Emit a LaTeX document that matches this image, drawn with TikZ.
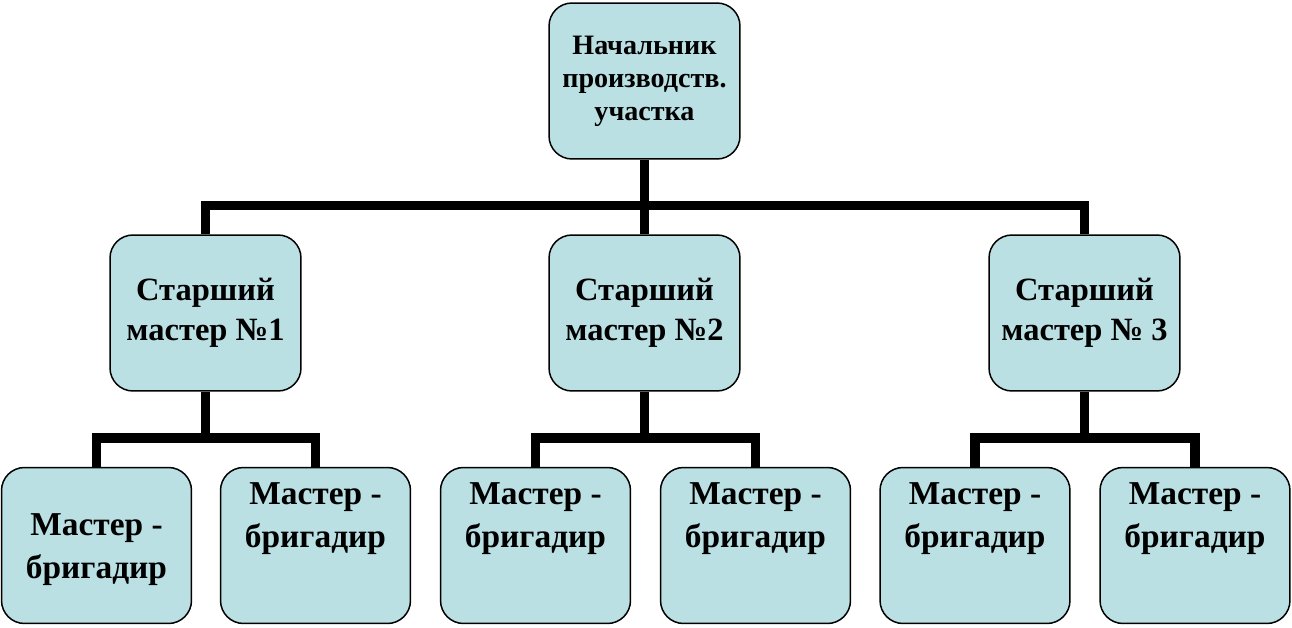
\documentclass[tikz,border=0pt]{standalone}
\usepackage{fontspec}
\setmainfont{Liberation Serif}
\usepackage{tikz}
\usetikzlibrary{calc}
\definecolor{cellblue}{RGB}{186,224,227}
\tikzset{cell/.style = {draw, fill = cellblue, rounded corners = 0.46cm, line width = 0.85pt,
    minimum width = 3.82cm, minimum height = 3.12cm, inner sep = 0pt, align = center},
  link/.style = {line width = 5.4pt}}
\newcommand{\uptext}[2][0cm]{\parbox[c][2.52cm][t]{3.6cm}{\centering\vspace*{#1}#2}}

\begin{document}
\begin{tikzpicture}[x = 0.02cm, y = -0.02cm]
\useasboundingbox (0,0) rectangle (1292,628);
\node[cell, font=\bfseries\fontsize{16}{18.7}\selectfont] (chief) at (644.5,81) {Начальник\\производств.\\участка};
\node[cell, font=\bfseries\fontsize{18.5}{22.7}\selectfont] (senA) at (205.5,313) {Старший\\мастер №1};
\node[cell, font=\bfseries\fontsize{18.5}{22.7}\selectfont] (senB) at (644.5,313) {Старший\\мастер №2};
\node[cell, font=\bfseries\fontsize{18.5}{22.7}\selectfont] (senC) at (1084.5,313) {Старший\\мастер № 3};
\node[cell, minimum width=3.8cm, font=\bfseries\fontsize{19}{24.4}\selectfont] (brA1) at (96.5,545.5) {\uptext[0.62cm]{Мастер -\\бригадир}};
\node[cell, minimum width=3.8cm, font=\bfseries\fontsize{19}{24.4}\selectfont] (brA2) at (315.5,545.5) {\uptext{Мастер -\\бригадир}};
\node[cell, minimum width=3.8cm, font=\bfseries\fontsize{19}{24.4}\selectfont] (brB1) at (535.5,545.5) {\uptext{Мастер -\\бригадир}};
\node[cell, minimum width=3.8cm, font=\bfseries\fontsize{19}{24.4}\selectfont] (brB2) at (755.5,545.5) {\uptext{Мастер -\\бригадир}};
\node[cell, minimum width=3.8cm, font=\bfseries\fontsize{19}{24.4}\selectfont] (brC1) at (975,545.5) {\uptext{Мастер -\\бригадир}};
\node[cell, minimum width=3.8cm, font=\bfseries\fontsize{19}{24.4}\selectfont] (brC2) at (1195,545.5) {\uptext{Мастер -\\бригадир}};
\coordinate (j0) at (644.5,205.5);
\coordinate (jA) at (205.5,438);
\coordinate (jB) at (644.5,438);
\coordinate (jC) at (1084.5,438);
\draw[link] (chief.south) -- (senB.north);
\draw[link] (senA.north) |- (j0) -| (senC.north);
\draw[link] (senA.south) -- (jA);
\draw[link] (brA1.north) |- (jA) -| (brA2.north);
\draw[link] (senB.south) -- (jB);
\draw[link] (brB1.north) |- (jB) -| (brB2.north);
\draw[link] (senC.south) -- (jC);
\draw[link] (brC1.north) |- (jC) -| (brC2.north);
\end{tikzpicture}
\end{document}
